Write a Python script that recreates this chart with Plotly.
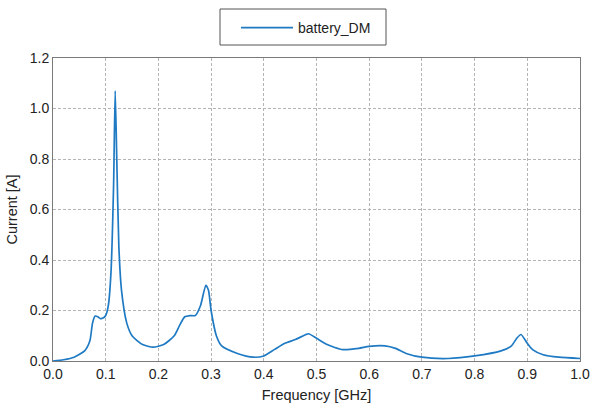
import plotly.graph_objects as go

freq_ghz = [0.0, 0.02, 0.04, 0.06, 0.07, 0.075, 0.08, 0.085, 0.09, 0.095, 0.10, 0.105, 0.11,
            0.115, 0.118, 0.121, 0.125, 0.13, 0.14, 0.15, 0.17, 0.19, 0.21, 0.23, 0.24, 0.25,
            0.26, 0.27, 0.28, 0.29, 0.295, 0.30, 0.31, 0.32, 0.35, 0.38, 0.40, 0.42, 0.44,
            0.46, 0.48, 0.485, 0.50, 0.52, 0.55, 0.58, 0.60, 0.63, 0.65, 0.67, 0.70, 0.75,
            0.80, 0.85, 0.87, 0.88, 0.888, 0.90, 0.91, 0.93, 0.96, 1.0]
current_a = [0.0, 0.005, 0.015, 0.04, 0.08, 0.15, 0.178, 0.175, 0.168, 0.17, 0.18, 0.22, 0.35,
             0.7, 1.07, 0.8, 0.45, 0.28, 0.15, 0.10, 0.065, 0.055, 0.065, 0.10, 0.14, 0.175,
             0.18, 0.18, 0.22, 0.30, 0.28, 0.20, 0.10, 0.06, 0.03, 0.015, 0.02, 0.045, 0.07,
             0.085, 0.105, 0.108, 0.09, 0.065, 0.045, 0.05, 0.058, 0.06, 0.05, 0.03, 0.015, 0.01,
             0.02, 0.04, 0.06, 0.09, 0.105, 0.07, 0.045, 0.025, 0.015, 0.01]

x_ticks = [0.0, 0.1, 0.2, 0.3, 0.4, 0.5, 0.6, 0.7, 0.8, 0.9, 1.0]
y_ticks = [0.0, 0.2, 0.4, 0.6, 0.8, 1.0, 1.2]

# plot area in window pixels (page body margin removed, figure fills the window)
PL, PR, PT, PB = 53, 580, 58, 361
W, H = 590, 408
pw, ph = PR - PL, PB - PT

fig = go.Figure()
fig.add_trace(go.Scatter(x=freq_ghz, y=current_a, mode="lines", name="battery_DM",
                         line=dict(color="#1f7ac4", width=1.7, shape="spline", smoothing=0.6)))

axis_common = dict(showgrid=True, gridcolor="#b4b4b4", griddash="3px,2px", gridwidth=1,
                   showline=True, linecolor="#7a7a7a", linewidth=1, mirror=True,
                   zeroline=False, ticks="", automargin=False,
                   tickfont=dict(size=14, color="#222"))

fig.update_layout(
    width=W, height=H,
    margin=dict(l=PL, r=W - PR, t=PT, b=H - PB, pad=0),
    paper_bgcolor="white", plot_bgcolor="white",
    font=dict(family="Liberation Sans, Arial, sans-serif", color="#222", size=14),
    showlegend=True,
    legend=dict(orientation="h", x=(236 - PL) / pw, xanchor="left",
                y=1 + (PT - 28) / ph, yanchor="middle",
                borderwidth=0, font=dict(size=14), itemwidth=52, bgcolor="rgba(0,0,0,0)"),
    xaxis=dict(range=[0, 1.0], tickvals=x_ticks, ticktext=[f"{v:.1f}" for v in x_ticks],
               title=dict(text="Frequency [GHz]", font=dict(size=14.5), standoff=9), **axis_common),
    yaxis=dict(range=[0, 1.2], tickvals=y_ticks, ticktext=[f"{v:.1f}" for v in y_ticks],
               title=dict(text="Current [A]", font=dict(size=14.5), standoff=8), **axis_common),
    shapes=[dict(type="rect", xref="paper", yref="paper",
                 x0=(220 - PL) / pw, x1=(386 - PL) / pw,
                 y0=(PB - 45) / ph, y1=(PB - 9) / ph,
                 line=dict(color="#555", width=1), fillcolor="rgba(0,0,0,0)")],
)

fig.write_html("out.html",
               config={"displayModeBar": False},
               post_script="document.body.style.margin='0';document.body.style.overflow='hidden';")
